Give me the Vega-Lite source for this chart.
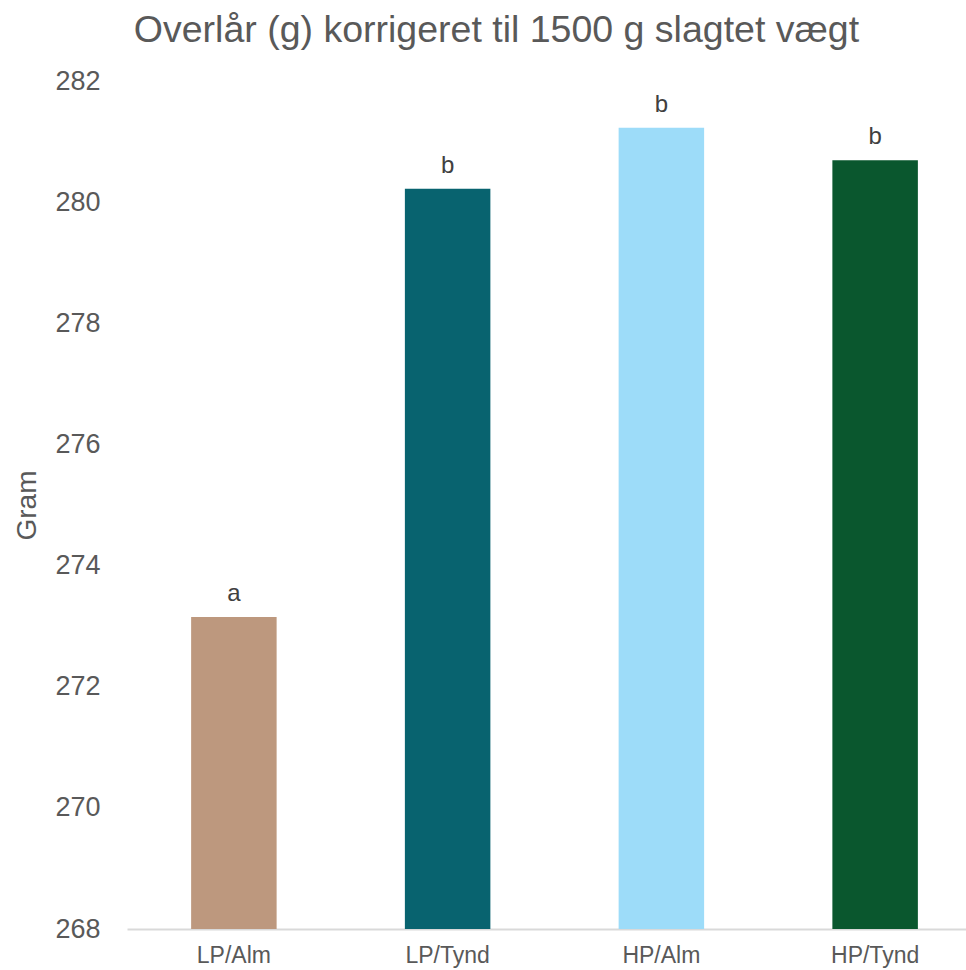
{
  "$schema": "https://vega.github.io/schema/vega-lite/v6.json",
  "width": 833,
  "height": 848,
  "autosize": {"type": "none"},
  "padding": {"left": 127, "top": 81, "right": 6, "bottom": 41},
  "background": "white",
  "config": {"view": {"stroke": null}, "font": "Liberation Sans"},
  "title": {
    "text": "Overlår (g) korrigeret til 1500 g slagtet vægt",
    "fontSize": 37.5,
    "font": "Liberation Sans",
    "fontWeight": "normal",
    "color": "#595959",
    "anchor": "middle",
    "dx": -47,
    "offset": 18
  },
  "data": {
    "values": [
      {"group": "LP/Alm", "value": 273.15, "sig": "a"},
      {"group": "LP/Tynd", "value": 280.22, "sig": "b"},
      {"group": "HP/Alm", "value": 281.23, "sig": "b"},
      {"group": "HP/Tynd", "value": 280.69, "sig": "b"}
    ]
  },
  "encoding": {
    "x": {
      "field": "group",
      "type": "nominal",
      "sort": null,
      "scale": {"paddingInner": 0.6, "paddingOuter": 0.3, "range": [0, 855]},
      "axis": {
        "title": null,
        "labelAngle": 0,
        "labelFontSize": 23,
        "labelColor": "#595959",
        "labelPadding": 15,
        "ticks": false,
        "domainColor": "#d9d9d9",
        "domainWidth": 2
      }
    },
    "y": {
      "field": "value",
      "type": "quantitative",
      "scale": {"domain": [268, 282], "zero": false, "nice": false},
      "axis": {
        "title": "Gram",
        "titleFontSize": 28,
        "titleFontWeight": "normal",
        "titleColor": "#595959",
        "titlePadding": 13,
        "values": [268, 270, 272, 274, 276, 278, 280, 282],
        "labelFontSize": 27,
        "labelColor": "#595959",
        "labelPadding": 27,
        "ticks": false,
        "domain": false,
        "grid": false
      }
    }
  },
  "layer": [
    {
      "mark": {"type": "bar", "clip": true},
      "encoding": {
        "y2": {"datum": 268},
        "color": {
          "field": "group",
          "type": "nominal",
          "legend": null,
          "scale": {
            "domain": ["LP/Alm", "LP/Tynd", "HP/Alm", "HP/Tynd"],
            "range": ["#BD987E", "#08636F", "#9DDCF9", "#0A572E"]
          }
        }
      }
    },
    {
      "mark": {"type": "text", "fontSize": 24, "color": "#404040", "baseline": "alphabetic", "dy": -16},
      "encoding": {"text": {"field": "sig"}}
    }
  ]
}
